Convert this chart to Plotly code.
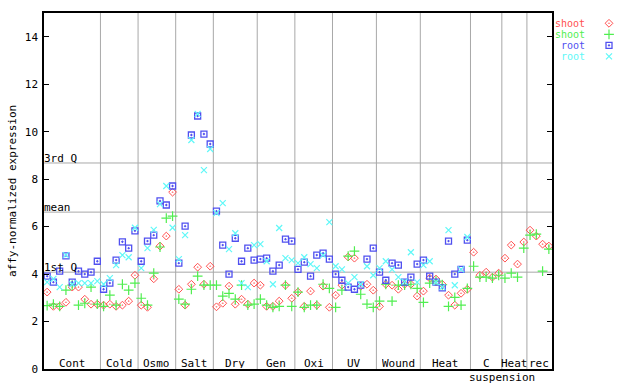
import plotly.graph_objects as go

# ---- data ----
group_labels = ["Cont", "Cold", "Osmo", "Salt", "Dry", "Gen", "Oxi", "UV", "Wound", "Heat", "C", "Heat", "rec"]
group_sizes = [9, 6, 6, 6, 7, 6, 6, 7, 7, 8, 5, 4, 4]
extra_label = "suspension"

shoot_red = [3.24, 2.64, 2.64, 2.81, 3.45, 3.45, 2.94, 2.73, 2.73,
             2.69, 2.73, 2.64, 2.69, 2.86, 3.95,
             2.69, 2.60, 3.80, 5.18, 5.60, 7.45,
             3.36, 2.69, 3.57, 4.29, 3.57, 4.33,
             2.62, 2.77, 3.49, 2.73, 2.94, 2.73, 3.62,
             3.53, 2.64, 2.64, 2.86, 3.53, 2.98,
             3.24, 2.64, 3.28, 2.69, 3.49, 2.60,
             3.11, 3.53, 4.72, 4.67, 3.49, 3.57, 3.32,
             2.64, 3.57, 3.53, 3.36, 3.57, 3.57, 3.07,
             3.28, 3.83, 3.79, 3.57, 3.11, 2.69, 3.19, 3.36,
             4.92, 3.95, 4.08, 3.87, 4.04,
             4.67, 5.22, 4.42, 5.35,
             5.85, 5.60, 5.26, 5.18]
shoot_green = [2.67, 2.73, 2.64, 3.32, 3.53, 2.69, 2.77, 3.45, 2.73,
               2.64, 3.11, 2.69, 3.57, 3.32, 3.62,
               2.98, 2.69, 4.04, 5.14, 6.36, 6.44,
               2.94, 2.73, 3.36, 3.91, 3.53, 3.53,
               3.53, 3.07, 3.19, 2.94, 3.53, 2.69, 2.73,
               2.94, 2.69, 2.60, 2.64, 3.53, 2.64,
               3.24, 2.60, 2.69, 2.69, 3.57, 3.40,
               2.60, 3.32, 4.76, 4.97, 3.15, 2.73, 2.60,
               2.86, 3.57, 2.86, 3.53, 3.53, 3.57, 3.40,
               2.81, 3.62, 3.70, 3.55, 2.64, 3.02, 2.69, 3.40,
               4.33, 3.87, 3.87, 3.83, 3.95,
               3.83, 4.04, 3.87, 5.09,
               5.64, 5.68, 4.12, 5.05]
root_blue = [3.91, 3.66, 4.12, 4.77, 3.66, 4.12, 4.00, 4.08, 4.54,
             3.36, 3.62, 4.59, 5.36, 5.09, 5.82,
             4.54, 5.39, 5.64, 7.08, 6.91, 7.71,
             4.46, 6.02, 9.86, 10.66, 9.90, 9.48,
             6.65, 5.22, 4.00, 5.51, 4.54, 5.09, 4.59,
             4.63, 4.67, 4.12, 4.38, 5.47, 5.39,
             4.20, 4.50, 3.91, 4.80, 4.88, 4.63,
             4.00, 3.74, 3.45, 3.36, 3.53, 4.63, 5.09,
             4.08, 3.74, 4.46, 4.38, 3.66, 3.87, 4.42,
             4.59, 3.91, 3.66, 3.42, 5.39, 4.00, 4.20, 5.43]
root_cyan = [3.66, 3.80, 3.45, 4.80, 3.57, 3.62, 3.62, 3.62, 3.70,
             3.57, 3.83, 4.38, 4.80, 4.71, 5.95,
             4.25, 5.09, 5.86, 6.95, 7.71, 5.95,
             4.63, 5.64, 9.65, 10.75, 8.38, 9.27,
             6.57, 6.99, 5.05, 5.72, 3.62, 3.45, 5.22,
             5.26, 4.54, 3.57, 5.94, 4.67, 4.59,
             4.46, 4.71, 4.42, 4.25, 4.80, 6.19,
             4.33, 4.20, 3.62, 3.87, 3.57, 4.33, 3.95,
             4.25, 4.54, 4.20, 3.87, 3.68, 4.92, 3.66,
             4.38, 4.54, 3.66, 3.45, 5.85, 3.53, 4.20, 5.56]

quartile_labels = ["3rd Q", "mean", "1st Q"]
quartile_values = [8.68, 6.61, 4.08]

y_ticks = [0, 2, 4, 6, 8, 10, 12, 14]
legend_names = ["shoot", "shoot", "root", "root"]

# ---- style ----
FONT = "DejaVu Sans Mono"
RED, GREEN, BLUE, CYAN = "#ff5050", "#50ee50", "#5050f0", "#60f8f8"
GRID = "#a8a8a8"
W, H = 640, 384
ML, MR, MT, MB = 44, 0, 13, 15
PW, PH = W - ML - MR, H - MT - MB
PLOT_RIGHT = 552
xdom = (PLOT_RIGHT - ML) / PW

n_total = len(shoot_red)
fig = go.Figure()

series = [
    (shoot_red, RED, dict(symbol="diamond-open-dot", size=6, line=dict(width=1))),
    (shoot_green, GREEN, dict(symbol="cross-thin-open", size=7, line=dict(width=1.2))),
    (root_blue, BLUE, dict(symbol="square-open-dot", size=6, line=dict(width=1.3))),
    (root_cyan, CYAN, dict(symbol="x-thin-open", size=6, line=dict(width=1.2))),
]
for vals, col, mk in series:
    m = dict(mk)
    m["color"] = col
    m["line"] = dict(mk["line"], color=col)
    fig.add_trace(go.Scatter(x=list(range(len(vals))), y=vals, mode="markers",
                             marker=m, showlegend=False, hoverinfo="skip"))

# legend symbols on helper axis
leg_rows = [10.3, 21.3, 32.3, 43.3]
for (vals, col, mk), yy in zip(series, leg_rows):
    m = dict(mk)
    m["color"] = col
    m["line"] = dict(mk["line"], color=col)
    fig.add_trace(go.Scatter(x=[0.5], y=[yy], mode="markers", marker=m,
                             xaxis="x2", yaxis="y2", showlegend=False, hoverinfo="skip"))
for (vals, col, mk), yy, name in zip(series, leg_rows, legend_names):
    fig.add_annotation(xref="paper", yref="paper", x=(586 - ML) / PW, y=1 - yy / PH,
                       text=name, showarrow=False, xanchor="right", yanchor="middle",
                       height=10, borderpad=0,
                       font=dict(family=FONT, size=10, color=col))

# group separators and labels
shapes = []
start = 0
for lab, sz in zip(group_labels, group_sizes):
    end = start + sz
    if end < n_total:
        shapes.append(dict(type="line", xref="x", yref="y domain", x0=end - 0.5, x1=end - 0.5,
                           y0=0, y1=1, line=dict(color=GRID, width=1), layer="below"))
    fig.add_annotation(xref="x", yref="paper", x=(start + end - 1) / 2, y=0, text=lab,
                       showarrow=False, xanchor="center", yanchor="bottom", yshift=0,
                       height=10, borderpad=0,
                       font=dict(family=FONT, size=11, color="black"))
    start = end
# "suspension" under boundary between C and Heat
c_end = sum(group_sizes[:11])
fig.add_annotation(xref="x", yref="paper", x=c_end - 0.5, y=0, text=extra_label,
                   showarrow=False, xanchor="center", yanchor="top", yshift=-2,
                   height=11, borderpad=0,
                   font=dict(family=FONT, size=11, color="black"))

for lab, v in zip(quartile_labels, quartile_values):
    shapes.append(dict(type="line", xref="x domain", yref="y", x0=0, x1=1, y0=v, y1=v,
                       line=dict(color=GRID, width=1), layer="below"))
    fig.add_annotation(xref="x domain", yref="y", x=0, y=v, text=lab, showarrow=False,
                       xanchor="left", yanchor="bottom", yshift=-4, xshift=-2,
                       font=dict(family=FONT, size=11, color="black"))

fig.add_annotation(xref="paper", yref="paper", x=(12 - ML) / PW, y=0.5,
                   text="affy-normalized expression", textangle=-90, showarrow=False,
                   xanchor="center", yanchor="middle",
                   font=dict(family=FONT, size=11, color="black"))

fig.update_layout(
    width=W, height=H, margin=dict(l=ML, r=MR, t=MT, b=MB),
    paper_bgcolor="white", plot_bgcolor="white", shapes=shapes, showlegend=False,
    xaxis=dict(domain=[0, xdom], range=[-0.5, n_total - 0.5], showgrid=False, zeroline=False,
               showticklabels=False, ticks="", showline=True, linecolor="black",
               linewidth=1.5, mirror=True, automargin=False),
    yaxis=dict(range=[0, 15], tickvals=y_ticks, showgrid=False, zeroline=False,
               ticks="inside", ticklen=5, tickcolor="black", showline=True,
               linecolor="black", linewidth=1.5, mirror="ticks", automargin=False,
               tickfont=dict(family=FONT, size=11, color="black"), ticklabelstandoff=2),
    xaxis2=dict(domain=[(600 - ML) / PW, (618 - ML) / PW], range=[0, 1], visible=False,
                anchor="y2"),
    yaxis2=dict(domain=[0, 1], range=[PH, 0], visible=False, anchor="x2"),
)

fig.write_html("out.html", config={"displayModeBar": False},
               post_script="document.body.style.margin='0';document.body.style.overflow='hidden';")
